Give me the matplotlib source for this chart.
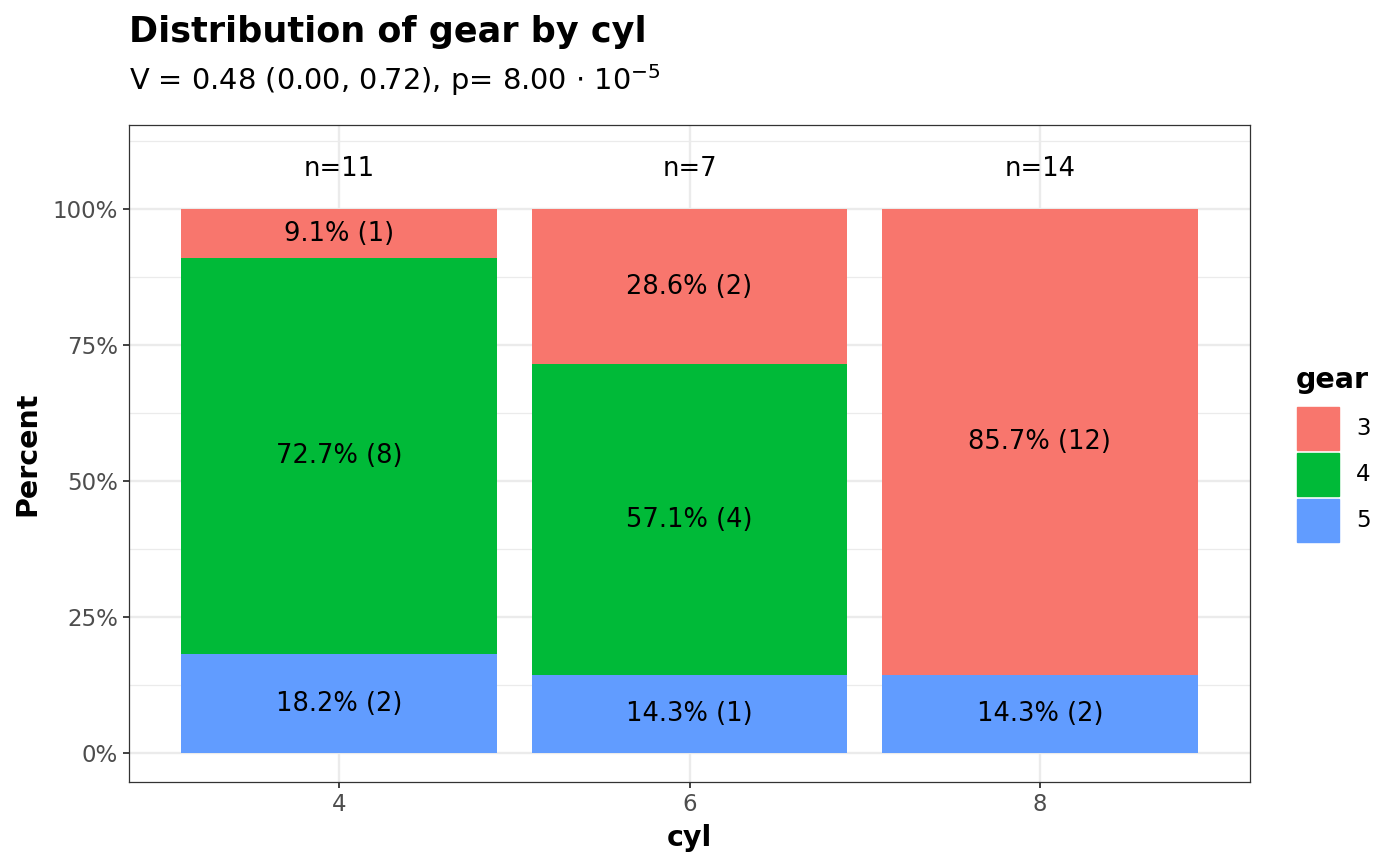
import matplotlib
matplotlib.use("Agg")
import matplotlib.pyplot as plt
import numpy as np
from matplotlib.patches import Rectangle
from matplotlib.ticker import FixedLocator, PercentFormatter

# counts of gear within each cyl group (mtcars)
cyl = ["4", "6", "8"]
gears = ["3", "4", "5"]
counts = {
    "3": [1, 2, 12],
    "4": [8, 4, 0],
    "5": [2, 1, 2],
}
colors = {"3": "#F8766D", "4": "#00BA38", "5": "#619CFF"}

title = "Distribution of gear by cyl"
subtitle = r"V = 0.48 (0.00, 0.72), p= 8.00 $\cdot$ 10$^{-5}$"

totals = np.array([sum(counts[g][i] for g in gears) for i in range(len(cyl))])

fig = plt.figure(figsize=(14, 8.66), dpi=100)
ax = fig.add_axes([0.0921, 0.097, 0.8008, 0.7587])

x = np.arange(len(cyl))
bottom = np.zeros(len(cyl))
# ggplot stacks the last level at the bottom
for g in reversed(gears):
    vals = np.array(counts[g], dtype=float)
    frac = vals / totals
    ax.bar(x, frac, bottom=bottom, width=0.9, color=colors[g], zorder=3)
    for i in range(len(cyl)):
        if vals[i] > 0:
            ax.text(x[i], bottom[i] + frac[i] / 2, f"{frac[i] * 100:.1f}% ({int(vals[i])})",
                    ha="center", va="center", fontsize=18.5, zorder=4)
    bottom += frac

for i in range(len(cyl)):
    ax.text(x[i], 1.074, f"n={totals[i]}", ha="center", va="center", fontsize=18.5)

ax.set_xlim(-0.6, 2.6)
ax.set_ylim(-0.0533, 1.154)
ax.set_xticks(x)
ax.set_xticklabels(cyl)
ax.set_yticks([0, 0.25, 0.5, 0.75, 1.0])
ax.yaxis.set_major_formatter(PercentFormatter(1.0, decimals=0))
ax.yaxis.set_minor_locator(FixedLocator([0.125, 0.375, 0.625, 0.875, 1.125]))

ax.grid(True, which="major", color="#EBEBEB", linewidth=1.7, zorder=0)
ax.grid(True, which="minor", axis="y", color="#EBEBEB", linewidth=0.9, zorder=0)
ax.set_axisbelow(True)
ax.tick_params(which="major", length=4, width=1.3, color="#333333",
               labelsize=16.5, labelcolor="#4D4D4D", pad=4)
ax.tick_params(which="minor", length=0)
for s in ax.spines.values():
    s.set_color("#333333")
    s.set_linewidth(0.9)

ax.set_xlabel("cyl", fontsize=20.5, fontweight="bold", labelpad=6)
ax.set_ylabel("Percent", fontsize=20.5, fontweight="bold", labelpad=8)

fig.text(0.0921, 0.9515, title, fontsize=25.2, fontweight="bold", ha="left", va="baseline")
fig.text(0.0921, 0.8961, subtitle, fontsize=20.8, ha="left", va="baseline")

# legend drawn by hand to match ggplot's key layout
W, H = 1400, 866
fig.text(1296 / W, 1 - 380 / H, "gear", fontsize=20.5, fontweight="bold", ha="left", va="center")
key_tops = [407, 453, 499]
for g, top in zip(gears, key_tops):
    fig.patches.append(Rectangle((1297 / W, 1 - (top + 43) / H), 42 / W, 43 / H,
                                 transform=fig.transFigure, color=colors[g]))
    fig.text(1356 / W, 1 - (top + 21.5) / H, g, fontsize=16.5, ha="left", va="center")

fig.savefig("out.png", dpi=100)
